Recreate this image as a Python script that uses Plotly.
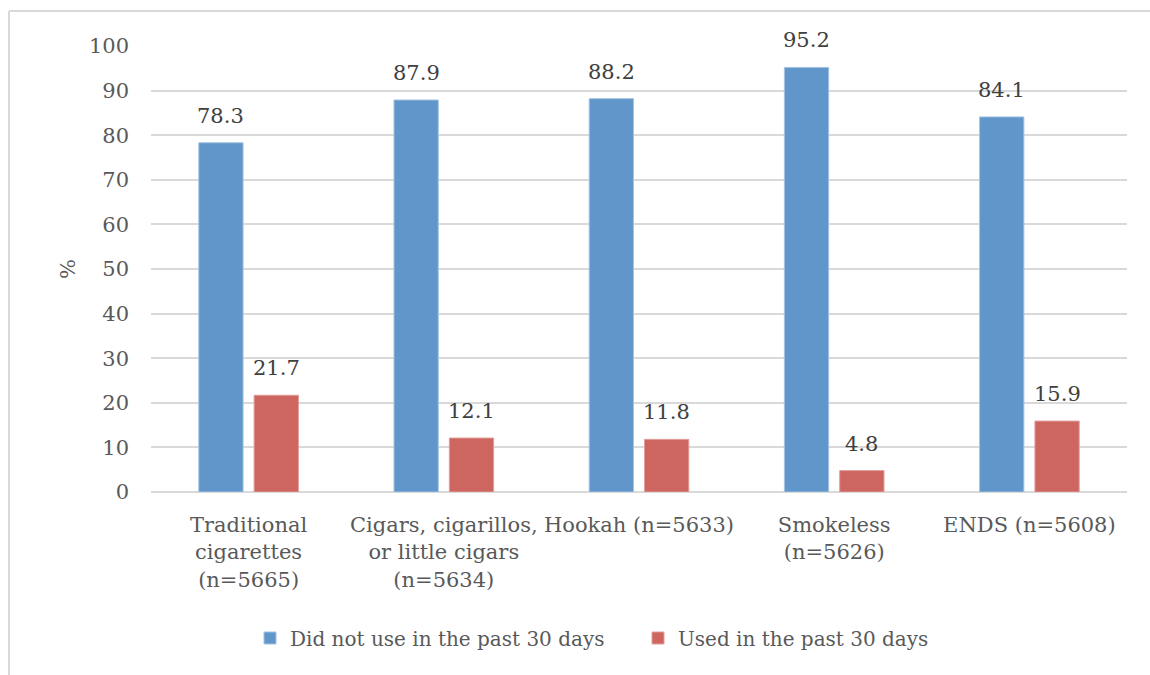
import plotly.graph_objects as go

# Tobacco product categories and percentages
categories = [
    "Traditional<br>cigarettes<br>(n=5665)",
    "Cigars, cigarillos,<br>or little cigars<br>(n=5634)",
    "Hookah (n=5633)",
    "Smokeless<br>(n=5626)",
    "ENDS (n=5608)",
]
did_not_use = [78.3, 87.9, 88.2, 95.2, 84.1]
used = [21.7, 12.1, 11.8, 4.8, 15.9]
y_ticks = [0, 10, 20, 30, 40, 50, 60, 70, 80, 90, 100]

FONT = "DejaVu Serif"
TEXT_GRAY = "#595959"
LABEL_GRAY = "#404040"
BLUE = "#6096C9"
RED = "#CD6560"

W, H = 1150, 675
ML, MR, MT, MB = 151, 23, 46, 183
BARGAP = 0.433

fig = go.Figure()
fig.add_trace(go.Bar(
    name="Did not use in the past 30 days",
    x=categories, y=did_not_use,
    marker=dict(color=BLUE, line=dict(color="#A3C3E2", width=1)),
))
fig.add_trace(go.Bar(
    name="Used in the past 30 days",
    x=categories, y=used,
    marker=dict(color=RED, line=dict(color="#E29E9A", width=1)),
))

pw = W - ML - MR
ph = H - MT - MB


def px_x(x):
    return (x - ML) / pw


def px_y(y):
    return (H - MB - y) / ph


# Value labels above each bar, offset to the bar's slot in its group
slot = pw / len(categories) * (1 - BARGAP) / 2
annotations = []
for series, shift in ((did_not_use, -slot / 2), (used, slot / 2)):
    for cat, v in zip(categories, series):
        annotations.append(dict(
            x=cat, y=v, xref="x", yref="y", text=f"{v:.1f}",
            showarrow=False, xshift=shift, yshift=27,
            xanchor="center", yanchor="middle",
            font=dict(family=FONT, size=21, color=LABEL_GRAY),
        ))

# Outer chart frame (top and left edges)
shapes = [
    dict(type="line", xref="paper", yref="paper",
         x0=px_x(9), x1=px_x(1150), y0=px_y(11), y1=px_y(11),
         line=dict(color="#D9D9D9", width=2)),
    dict(type="line", xref="paper", yref="paper",
         x0=px_x(9), x1=px_x(9), y0=px_y(11), y1=px_y(675),
         line=dict(color="#D9D9D9", width=2)),
]

fig.update_layout(
    width=W, height=H,
    margin=dict(l=ML, r=MR, t=MT, b=MB),
    paper_bgcolor="white", plot_bgcolor="white",
    barmode="group", bargap=BARGAP, bargroupgap=0.2,
    font=dict(family=FONT, size=21, color=TEXT_GRAY),
    shapes=shapes,
    annotations=annotations,
    legend=dict(
        orientation="h", x=px_x(250), xanchor="left",
        y=px_y(638), yanchor="middle",
        font=dict(family=FONT, size=20, color=TEXT_GRAY),
        itemwidth=30, tracegroupgap=0,
        entrywidth=343, entrywidthmode="pixels",
    ),
    xaxis=dict(
        showgrid=False, showline=False, ticks="",
        tickfont=dict(family=FONT, size=21, color=TEXT_GRAY),
        ticklabelstandoff=18,
    ),
    yaxis=dict(
        range=[0, 100], tickvals=y_ticks,
        showgrid=True, gridcolor="#D9D9D9", gridwidth=1.5,
        zeroline=True, zerolinecolor="#D9D9D9", zerolinewidth=1.5,
        showline=False, ticks="",
        tickfont=dict(family=FONT, size=21, color=TEXT_GRAY),
        ticklabelstandoff=21,
        title=dict(text="%", font=dict(family=FONT, size=21, color=TEXT_GRAY),
                   standoff=7),
    ),
)

fig.write_html("out.html")
